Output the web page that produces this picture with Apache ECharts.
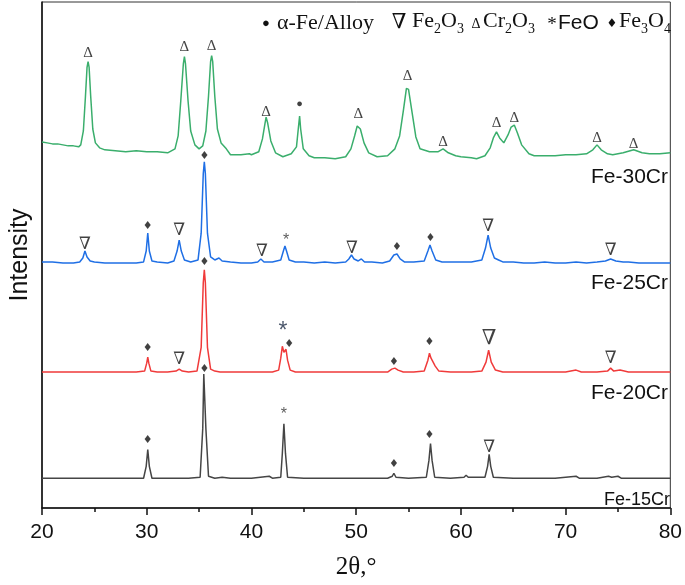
<!DOCTYPE html>
<html><head><meta charset="utf-8">
<script src="https://cdn.jsdelivr.net/npm/echarts/dist/echarts.min.js"></script>
<style>html,body{margin:0;padding:0;background:#fff}#c{width:685px;height:585px}</style>
</head><body><div id="c"></div>
<script>
// ---- data: [2theta, intensity above own baseline] ----
const sampleNames = ['Fe-15Cr', 'Fe-20Cr', 'Fe-25Cr', 'Fe-30Cr'];
const offsets = [30, 137, 247, 360];
const xTicks = [20, 30, 40, 50, 60, 70, 80];

const fe15 = [[20,0],[22,0],[24,0],[26,0],[28,0],[29.7,0],[29.95,12],[30.1,29],[30.25,12],[30.5,0],[32,0],[33,0],[34,0],[35.1,1],[35.35,50],[35.45,105],[35.55,105],[35.65,50],[35.9,2],[36.5,0],[37.2,1],[38,0],[40,0],[41.7,2],[42,0],[42.8,1],[42.95,25],[43.1,55],[43.25,25],[43.45,1],[45,0],[47,0],[49,0],[51,0],[53,0],[53.45,2],[53.6,5],[53.8,1],[55,0],[56.7,1],[56.95,18],[57.1,35],[57.25,18],[57.5,1],[59,0],[60.3,1],[60.5,3],[60.7,1],[62.3,1],[62.55,12],[62.7,24],[62.85,12],[63.1,1],[65,0],[67,0],[69,0],[71,2],[71.3,0],[73,0],[74.1,2],[74.4,1],[75,2],[75.3,0],[77,0],[79,0],[80,0]];

const fe20 = [[20,0],[21,0],[22,0],[23,0],[24,0],[25,0],[26,0],[27,0],[28,0],[29,0],[29.8,1],[30.0,9],[30.1,15],[30.2,9],[30.4,1],[31,0],[32,0],[32.8,1],[33.1,3],[33.4,1],[34,0],[34.8,1],[35.2,25],[35.4,90],[35.5,103],[35.6,90],[35.8,25],[36.1,3],[36.5,1],[37,0],[38,0],[39,0],[40,0],[41,0],[42,0],[42.6,2],[42.8,14],[42.95,26],[43.1,20],[43.3,23],[43.45,12],[43.7,2],[44.2,0],[45,0],[46,0],[47,0],[48,0],[49,0],[50,0],[51,0],[52,0],[53,0],[53.4,3],[53.7,4],[54.0,2],[54.5,0],[55.5,0],[56.5,1],[56.85,12],[57.0,19],[57.15,14],[57.3,16],[57.55,6],[57.9,1],[59,0],[60,0],[61,0],[62,1],[62.4,10],[62.65,22],[62.9,10],[63.3,2],[64,0],[65,0],[66,0],[67,0],[68,0],[69,0],[70,0],[71,2],[71.5,0],[72,0],[73,0],[74,1],[74.3,4],[74.6,1],[75.2,2],[76,0],[77,0],[78,0],[79,0],[80,0]];

const fe25 = [[20,1],[21,1],[22,0],[23,0],[23.6,1],[23.9,5],[24.1,12],[24.3,6],[24.6,2],[25,1],[26,0],[27,0],[28,0],[29,0],[29.7,1],[29.95,12],[30.1,30],[30.25,12],[30.5,2],[31,1],[32,0],[32.6,2],[32.9,12],[33.1,23],[33.3,12],[33.6,3],[34.2,1],[34.9,3],[35.2,30],[35.4,90],[35.5,102],[35.6,90],[35.8,30],[36.1,6],[36.5,3],[36.9,5],[37.2,2],[38,1],[39,0],[40,0],[40.6,1],[40.9,4],[41.2,1],[42,1],[42.8,3],[43.05,12],[43.2,17],[43.35,12],[43.6,3],[44.2,1],[45,1],[46,0],[47,1],[48,0],[49,1],[49.3,4],[49.55,8],[49.8,4],[50.2,2],[50.5,4],[50.8,1],[51.5,1],[52.5,0],[53.2,2],[53.6,8],[53.9,9],[54.2,4],[54.6,1],[55.5,1],[56.5,2],[56.85,12],[57.05,18],[57.25,12],[57.6,3],[58.2,1],[59,1],[60,1],[61,1],[62,3],[62.35,15],[62.6,28],[62.85,15],[63.2,5],[63.6,3],[64,1],[65,1],[66,0],[67,0],[68,1],[69,0],[70,0],[71,1],[72,0],[73,1],[73.8,2],[74.3,4],[74.8,2],[75.5,1],[76,1],[77,0],[78,0],[79,0],[80,0]];

const fe30 = [[20,9],[20.5,8],[21,7],[21.5,7],[22,6],[22.5,5],[23,5],[23.5,4],[23.7,6],[23.95,20],[24.15,55],[24.3,84],[24.4,90],[24.5,84],[24.65,55],[24.85,22],[25.1,8],[25.5,3],[26,1],[27,0],[28,-1],[29,0],[30,-1],[31,-1],[32,-2],[32.7,2],[33.0,15],[33.25,50],[33.5,88],[33.6,95],[33.7,88],[33.95,50],[34.2,20],[34.6,6],[35,2],[35.35,5],[35.65,20],[35.9,55],[36.1,90],[36.2,96],[36.3,90],[36.5,55],[36.75,22],[37.1,8],[37.6,2],[38,-4],[39,-4],[39.8,-3],[40,-4],[40.7,-1],[41.05,12],[41.3,28],[41.4,34],[41.55,28],[41.85,10],[42.3,-2],[43,-6],[43.8,-3],[44.3,4],[44.5,25],[44.6,35],[44.7,22],[44.95,2],[45.5,-5],[46,-7],[47,-7],[48,-8],[49,-6],[49.5,2],[49.85,15],[50.1,25],[50.2,27],[50.4,22],[50.75,8],[51.2,-2],[52,-6],[53,-5],[53.7,2],[54.15,15],[54.5,40],[54.8,63],[54.9,65],[55.0,62],[55.35,38],[55.7,14],[56.1,2],[57,-1],[57.8,-1],[58.3,2],[58.8,-2],[59.5,-5],[60,-6],[61,-7],[61.5,-8],[62.3,-5],[62.8,3],[63.1,13],[63.4,19],[63.7,13],[64.1,8],[64.5,16],[64.8,24],[65.1,26],[65.4,18],[65.8,6],[66.5,-3],[67,-5],[68,-5],[69,-5],[70,-4],[71,-4],[72,-3],[72.6,1],[73,6],[73.4,1],[74,-3],[74.5,-4],[75.5,-2],[76.5,1],[77.3,-2],[78,-3],[79,-3],[80,-2]];

// phase annotation positions [2theta, stacked intensity]
const markAlphaFe = [[44.6,407]];
const markCr2O3 = [[24.4,459],[33.6,465],[36.2,466],[41.4,399],[50.2,397],[54.9,435],[58.3,369],[63.4,388],[65.1,393],[73.0,373],[76.5,367]];
const markFe2O3 = [[24.1,266],[33.1,280],[41.0,259],[49.6,262],[62.6,284],[74.3,260],[33.1,150],[74.3,151],[62.7,61]];
const markFe2O3Big = [[62.7,171]];
const markFeO = [[43.3,270],[43.1,94]];
const markFeOBig = [[43.0,178]];
const markFe3O4 = [[30.1,284],[35.5,355],[53.9,263],[57.1,272],[35.5,248],[30.1,161],[43.6,165],[53.6,147],[57.0,167],[35.5,140],[30.1,68],[53.6,44],[57.0,73]];

// ---- chart ----
const colors = ['#454545', '#f03a3a', '#1f6fe5', '#3aae6c'];
const traces = [fe15, fe20, fe25, fe30];
const chart = echarts.init(document.getElementById('c'), null, {renderer: 'canvas'});

const lineSeries = traces.map((t, i) => ({
  type: 'line', name: sampleNames[i], showSymbol: false, silent: true,
  data: t.map(p => [p[0], p[1] + offsets[i]]),
  lineStyle: {color: colors[i], width: 1.5}, z: 2 + i
}));

function markSeries(data, sym, font, size, color) {
  return {
    type: 'scatter', symbolSize: 0, silent: true, data: data, z: 10,
    label: {show: true, position: 'inside', formatter: () => sym,
      fontFamily: font, fontSize: size, color: color || '#111'}
  };
}

const serif = '"Liberation Serif", "DejaVu Serif", serif';
const sans = '"Liberation Sans", Arial, sans-serif';
const djv = '"DejaVu Sans", sans-serif';

function legText(x, y, text, font, size, align) {
  return {type: 'text', x: x, y: y, style: {text: text, align: align || 'left', verticalAlign: 'middle',
    font: size + 'px ' + font, fill: '#111'}};
}

const option = {
  animation: false,
  backgroundColor: '#fff',
  grid: {left: 40, right: 10, top: 2, bottom: 73, show: true, borderColor: '#333', borderWidth: 1},
  xAxis: {
    type: 'value', min: xTicks[0], max: xTicks[xTicks.length - 1], interval: 10,
    name: '2θ,°', nameLocation: 'middle', nameGap: 47,
    nameTextStyle: {fontFamily: serif, fontSize: 25, color: '#111'},
    axisLine: {lineStyle: {color: '#111', width: 1.5}},
    axisTick: {show: true, length: 7, lineStyle: {color: '#111', width: 1.5}},
    minorTick: {show: true, splitNumber: 2, length: 4, lineStyle: {color: '#111', width: 1.5}},
    axisLabel: {fontFamily: sans, fontSize: 21, color: '#111', margin: 14},
    splitLine: {show: false}
  },
  yAxis: {
    type: 'value', min: 0, max: 510,
    name: 'Intensity', nameLocation: 'middle', nameGap: 9,
    nameTextStyle: {fontFamily: sans, fontSize: 25, color: '#111'},
    axisLine: {show: true, lineStyle: {color: '#111', width: 1.5}},
    axisTick: {show: false}, axisLabel: {show: false}, splitLine: {show: false}
  },
  series: lineSeries.concat([
    markSeries(markAlphaFe, '●', sans, 11),
    markSeries(markCr2O3, 'Δ', serif, 15),
    markSeries(markFe2O3, '∇', serif, 17),
    markSeries(markFe2O3Big, '∇', serif, 21),
    markSeries(markFeO, '*', sans, 16, '#333'),
    markSeries(markFeOBig, '*', sans, 23, '#1c2a44'),
    markSeries(markFe3O4, '♦', djv, 11)
  ]),
  graphic: [
    legText(266, 23, '●', sans, 13, 'center'),
    legText(277, 23, 'α-Fe/Alloy', serif, 22),
    legText(399, 22, '∇', serif, 21, 'center'),
    legText(412, 23, '{m|Fe}{s|2}{m|O}{s|3}', serif, 22),
    legText(476, 24, 'Δ', serif, 14, 'center'),
    legText(483, 23, '{m|Cr}{s|2}{m|O}{s|3}', serif, 22),
    legText(552, 25, '*', serif, 19, 'center'),
    legText(558, 23, 'FeO', sans, 21),
    legText(612, 24, '♦', djv, 12, 'center'),
    legText(619, 23, '{m|Fe}{s|3}{m|O}{s|4}', serif, 22),
    {type: 'text', x: 668, y: 177, style: {text: sampleNames[3], align: 'right', verticalAlign: 'middle', font: '21px "Liberation Sans", Arial, sans-serif', fill: '#111'}},
    {type: 'text', x: 668, y: 283, style: {text: sampleNames[2], align: 'right', verticalAlign: 'middle', font: '21px "Liberation Sans", Arial, sans-serif', fill: '#111'}},
    {type: 'text', x: 668, y: 393, style: {text: sampleNames[1], align: 'right', verticalAlign: 'middle', font: '21px "Liberation Sans", Arial, sans-serif', fill: '#111'}},
    {type: 'text', x: 670, y: 500, style: {text: sampleNames[0], align: 'right', verticalAlign: 'middle', font: '18px "Liberation Sans", Arial, sans-serif', fill: '#111'}}
  ]
};
// rich styles for the subscript formulas
const richStyle = {
  m: {fontFamily: serif, fontSize: 22, color: '#111', lineHeight: 26, verticalAlign: 'top'},
  s: {fontFamily: serif, fontSize: 14, color: '#111', lineHeight: 14, verticalAlign: 'bottom'}
};
option.graphic.forEach(g => { if (g.style.text.indexOf('{m|') === 0) { g.style.rich = richStyle; delete g.style.font; } });
chart.setOption(option);
</script>
</body></html>
